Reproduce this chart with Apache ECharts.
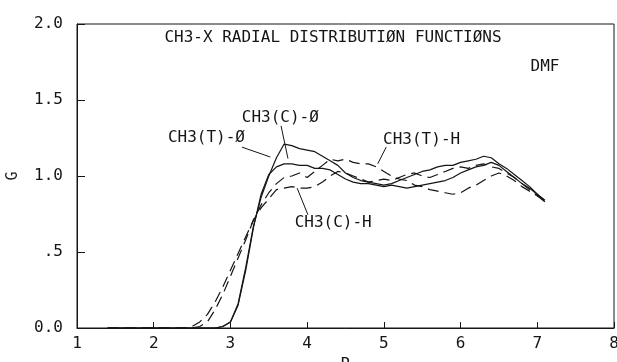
<!DOCTYPE html>
<html>
<head>
<meta charset="utf-8">
<script src="https://cdn.jsdelivr.net/npm/echarts@6/dist/echarts.min.js"></script>
<style>
  html, body { margin: 0; padding: 0; background: #fff; }
  #chart { width: 617px; height: 362px; }
</style>
</head>
<body>
<div id="chart"></div>
<script>
// Radial distance R (shared abscissa for all four curves)
const radius = [1.4, 2.3, 2.4, 2.5, 2.6, 2.7, 2.8, 2.9, 3.0, 3.1, 3.2, 3.3, 3.4, 3.5, 3.6, 3.7,
  3.8, 3.9, 4.0, 4.1, 4.2, 4.3, 4.4, 4.5, 4.6, 4.7, 4.8, 4.9, 5.0, 5.1, 5.2, 5.3, 5.4, 5.5,
  5.6, 5.7, 5.8, 5.9, 6.0, 6.1, 6.2, 6.3, 6.4, 6.5, 6.6, 6.7, 6.8, 6.9, 7.0, 7.1];

// g(R) for the methyl carbon of the trans / cis methyl group against O and H
const gTO = [0, 0, 0, 0, 0, 0, 0, 0.01, 0.04, 0.16, 0.40, 0.67, 0.86, 1.00, 1.12, 1.21,
  1.20, 1.18, 1.17, 1.16, 1.13, 1.10, 1.07, 1.02, 0.99, 0.97, 0.96, 0.95, 0.94, 0.95, 0.97, 0.99, 1.01, 1.03,
  1.04, 1.06, 1.07, 1.07, 1.09, 1.10, 1.11, 1.13, 1.12, 1.08, 1.05, 1.01, 0.97, 0.93, 0.88, 0.83];
const gCO = [0, 0, 0, 0, 0, 0, 0, 0.01, 0.04, 0.15, 0.38, 0.66, 0.88, 1.01, 1.06, 1.08,
  1.08, 1.07, 1.07, 1.05, 1.05, 1.04, 1.01, 0.98, 0.96, 0.95, 0.95, 0.94, 0.93, 0.94, 0.93, 0.92, 0.93, 0.94,
  0.95, 0.96, 0.97, 0.99, 1.02, 1.04, 1.06, 1.07, 1.09, 1.07, 1.03, 0.99, 0.95, 0.92, 0.88, 0.84];
const gTH = [0, 0, 0, 0, 0.01, 0.04, 0.12, 0.22, 0.34, 0.46, 0.58, 0.71, 0.81, 0.89, 0.95, 0.99,
  1.00, 1.02, 0.99, 1.03, 1.07, 1.11, 1.10, 1.11, 1.09, 1.08, 1.08, 1.06, 1.03, 1.00, 0.98, 0.97, 0.94, 0.93,
  0.91, 0.90, 0.89, 0.88, 0.89, 0.92, 0.94, 0.97, 1.00, 1.02, 1.00, 0.97, 0.93, 0.90, 0.87, 0.83];
const gCH = [0, 0, 0, 0.01, 0.04, 0.09, 0.17, 0.27, 0.38, 0.49, 0.60, 0.71, 0.79, 0.85, 0.91, 0.92,
  0.93, 0.92, 0.92, 0.93, 0.96, 1.00, 1.03, 1.02, 1.00, 0.98, 0.96, 0.97, 0.98, 0.97, 0.99, 1.01, 1.02, 1.00,
  0.99, 1.01, 1.03, 1.05, 1.06, 1.05, 1.07, 1.08, 1.06, 1.05, 1.02, 0.99, 0.95, 0.91, 0.87, 0.84];

const seriesNames = ['CH3(T)-Ø', 'CH3(C)-Ø', 'CH3(T)-H', 'CH3(C)-H'];
const seriesValues = [gTO, gCO, gTH, gCH];
const seriesDashed = [false, false, true, true];

const xTicks = [1, 2, 3, 4, 5, 6, 7, 8];
const yTickLabels = { '0': '0.0', '0.5': '.5', '1': '1.0', '1.5': '1.5', '2': '2.0' };

const titleText = 'CH3-X RADIAL DISTRIBUTIØN FUNCTIØNS';
const solventText = 'DMF';

const FONT = "'DejaVu Sans Mono', 'Liberation Mono', monospace";
const INK = '#151515';

// Curve labels: text anchor and leader line, both in (R, G) units
const curveLabels = [
  { name: 'CH3(T)-Ø', at: [3.19, 1.25], align: 'right', leader: [[3.15, 1.19], [3.52, 1.125]] },
  { name: 'CH3(C)-Ø', at: [3.65, 1.385], align: 'center', leader: [[3.66, 1.33], [3.75, 1.115]] },
  { name: 'CH3(T)-H', at: [4.99, 1.24], align: 'left', leader: [[5.03, 1.19], [4.92, 1.08]] },
  { name: 'CH3(C)-H', at: [4.34, 0.69], align: 'center', leader: [[4.01, 0.745], [3.87, 0.92]] }
];

const chart = echarts.init(document.getElementById('chart'), null, { renderer: 'canvas' });

const series = seriesNames.map((name, i) => ({
  name: name,
  type: 'line',
  data: radius.map((r, k) => [r, seriesValues[i][k]]),
  showSymbol: false,
  smooth: false,
  animation: false,
  lineStyle: {
    color: INK,
    width: 1.2,
    type: seriesDashed[i] ? [11, 6] : 'solid'
  }
}));

chart.setOption({
  animation: false,
  backgroundColor: '#fff',
  grid: {
    left: 77, right: 3, top: 24, bottom: 34,
    containLabel: false, outerBoundsMode: 'none',
    show: true, borderColor: INK, borderWidth: 1
  },
  xAxis: {
    type: 'value',
    min: 1, max: 8, interval: 1,
    name: 'R', nameLocation: 'middle', nameGap: 27,
    nameTextStyle: { fontFamily: FONT, fontSize: 16, color: INK },
    axisLine: { show: true, onZero: false, lineStyle: { color: INK, width: 1 } },
    axisTick: { show: true, inside: true, length: 6, lineStyle: { color: INK } },
    axisLabel: {
      fontFamily: FONT, fontSize: 16, color: INK, margin: 8,
      formatter: v => (xTicks.indexOf(v) >= 0 ? String(v) : '')
    },
    splitLine: { show: false }
  },
  yAxis: {
    type: 'value',
    min: 0, max: 2, interval: 0.5,
    name: 'G', nameLocation: 'middle', nameGap: 56, nameRotate: 90,
    nameTextStyle: { fontFamily: FONT, fontSize: 15, color: INK },
    axisLine: { show: true, onZero: false, lineStyle: { color: INK, width: 1 } },
    axisTick: { show: true, inside: true, length: 8, lineStyle: { color: INK } },
    axisLabel: {
      fontFamily: FONT, fontSize: 16, color: INK, margin: 14,
      padding: [0, 0, 6, 0],
      formatter: v => yTickLabels[String(v)] || ''
    },
    splitLine: { show: false }
  },
  series: series
});

// Place title, solvent tag and curve labels once the scales exist
function px(pt) { return chart.convertToPixel({ gridIndex: 0 }, pt); }

const graphics = [
  {
    type: 'text', silent: true, x: 333, y: 30,
    style: { text: titleText, font: '16px ' + FONT, fill: INK, align: 'center' }
  },
  {
    type: 'text', silent: true, x: 545, y: 59,
    style: { text: solventText, font: '16px ' + FONT, fill: INK, align: 'center' }
  }
];

curveLabels.forEach(lab => {
  const p = px(lab.at);
  graphics.push({
    type: 'text', silent: true, x: p[0], y: p[1],
    style: { text: lab.name, font: '16px ' + FONT, fill: INK, align: lab.align, verticalAlign: 'middle' }
  });
  const a = px(lab.leader[0]);
  const b = px(lab.leader[1]);
  graphics.push({
    type: 'line', silent: true,
    shape: { x1: a[0], y1: a[1], x2: b[0], y2: b[1] },
    style: { stroke: INK, lineWidth: 1 }
  });
});

chart.setOption({ graphic: graphics });
</script>
</body>
</html>
